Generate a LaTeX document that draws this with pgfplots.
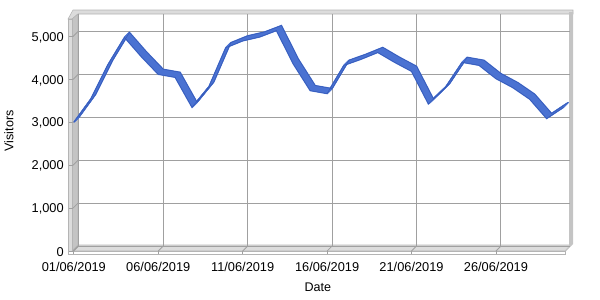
\documentclass[border=0pt]{standalone}
\usepackage{pgfplots}
\pgfplotsset{compat=1.18}
\usepackage{pgfplotstable}
\usepackage{fontspec}
\setmainfont{Liberation Sans}
\definecolor{ribbon}{HTML}{4A72D2}
\definecolor{ribbonedge}{HTML}{3458B4}
\definecolor{gridc}{HTML}{A0A0A0}
\definecolor{wallA}{HTML}{C4C4C4}
\definecolor{wallB}{HTML}{DCDCDC}
\definecolor{edgec}{HTML}{B4B4B4}

\pgfplotstableread{
day visitors
1 3000
2 3540
3 4330
4 4980
5 4530
6 4120
7 4050
8 3350
9 3830
10 4740
11 4900
12 4990
13 5140
14 4360
15 3740
16 3670
17 4330
18 4470
19 4630
20 4400
21 4190
22 3430
23 3810
24 4400
25 4330
26 4020
27 3810
28 3540
29 3090
30 3350
}\datatable

\begin{document}
\begin{tikzpicture}
\path[use as bounding box] (0,0) rectangle (450pt,-225pt);
\begin{scope}[x=0.75pt,y=-0.75pt]
  % top band
  \filldraw[fill=wallB, draw=edgec, line width=0.4pt] (68,19) -- (73,10) -- (573,10) -- (573,14) -- (78,14) -- (72,19) -- cycle;
  % left wall
  \filldraw[fill=wallA, draw=edgec, line width=0.4pt] (72,19) -- (78,14) -- (78,246) -- (72,251) -- cycle;
  \filldraw[fill=wallB, draw=edgec, line width=0.4pt] (68,19) -- (72,19) -- (72,254) -- (68,254) -- cycle;
  % floor
  \filldraw[fill=wallB, draw=edgec, line width=0.4pt] (72,251) -- (78,245) -- (571,245) -- (565,251) -- cycle;
  % right wall
  \fill[wallA] (569,12) -- (573,12) -- (573,244) -- (566,251) -- (565,251) -- (569,246) -- cycle;
  % front floor edge
  \filldraw[fill=white, draw=edgec, line width=0.4pt] (68,251) rectangle (565,254);
\end{scope}
\begin{axis}[
  at={(58.5pt,-184.5pt)}, anchor=south west,
  scale only axis, width=368.625pt, height=174pt,
  xmin=0.95, xmax=30.06, ymin=0, ymax=5409,
  clip=false,
  xtick={1,6,11,16,21,26},
  xticklabels={01/06/2019,06/06/2019,11/06/2019,16/06/2019,21/06/2019,26/06/2019},
  ytick={0,1000,...,5000},
  grid=major,
  major grid style={gridc, line width=0.75pt},
  axis line style={draw=none},
  tick style={draw=none},
  /pgf/number format/1000 sep={,},
  /pgf/number format/assume math mode=true,
  tick label style={font=\fontsize{9.6}{11}\selectfont, text=black},
  xticklabel style={anchor=north, inner sep=0pt, yshift=-12pt, xshift=-3.75pt},
  yticklabel style={anchor=east, inner sep=0pt, xshift=-10.5pt, yshift=-4.5pt},
  xlabel={Date}, ylabel={Visitors},
  label style={font=\fontsize{9.4}{11}\selectfont},
  xlabel style={at={(axis description cs:0.488,-0.177)}, anchor=center},
  ylabel style={at={(axis description cs:-0.1404,0.496)}, anchor=center},
]
\pgfplotsinvokeforeach{0,1000,2000,3000,4000,5000}{
  \draw[gridc, line width=0.6pt] ([xshift=-3.75pt,yshift=-3.75pt]axis cs:0.95,#1) -- (axis cs:0.95,#1);
  \draw[gridc, line width=0.6pt] ([xshift=-6.5pt,yshift=-3.75pt]axis cs:0.95,#1) -- ([xshift=-3.75pt,yshift=-3.75pt]axis cs:0.95,#1);
}
\pgfplotsinvokeforeach{1,6,11,16,21,26}{
  \draw[gridc, line width=0.6pt] ([xshift=-3.75pt,yshift=-3.75pt]axis cs:#1,0) -- (axis cs:#1,0);
  \draw[gridc, line width=0.6pt] ([xshift=-3.75pt,yshift=-3.75pt]axis cs:#1,0) -- ([xshift=-3.75pt,yshift=-6pt]axis cs:#1,0);
}
\pgfplotsinvokeforeach{0,0.5,1,1.5,2,2.5,3,3.5,4,4.5,5}{
  \addplot[ribbon, line width=1pt, no markers, xshift=-#1*0.75pt, yshift=-#1*0.75pt]
    table[x=day, y=visitors]{\datatable};
}
\addplot[ribbonedge, line width=0.35pt, no markers, xshift=-3.75pt, yshift=-3.75pt]
  table[x=day, y=visitors]{\datatable};
\addplot[ribbonedge, line width=0.35pt, no markers]
  table[x=day, y=visitors]{\datatable};
\end{axis}
\end{tikzpicture}
\end{document}
